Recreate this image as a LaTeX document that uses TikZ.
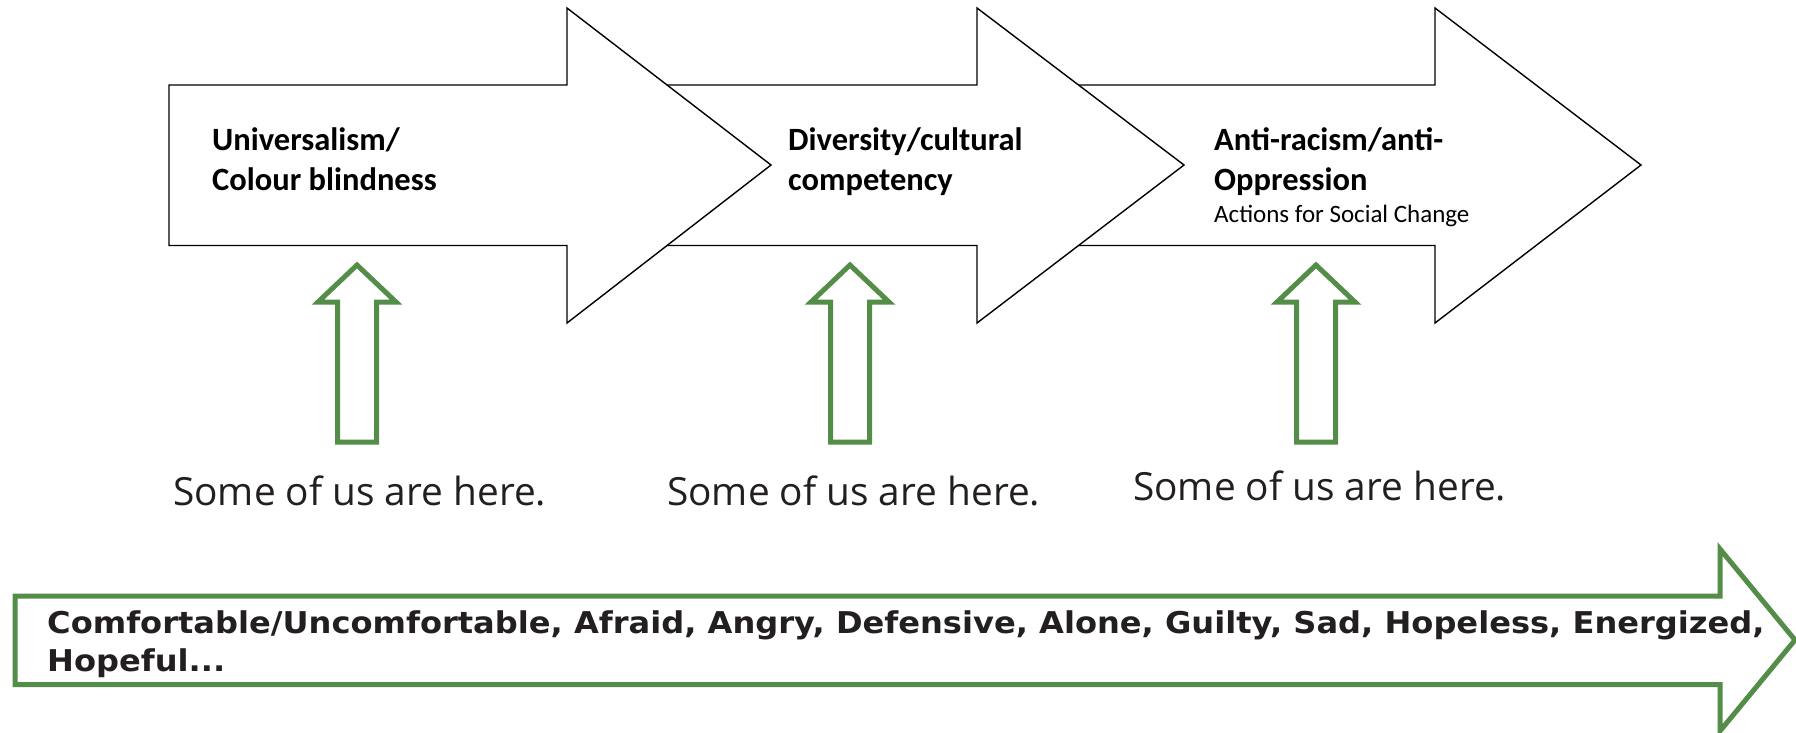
\documentclass[tikz,border=0pt]{standalone}
\usepackage{fontspec}
\setmainfont{Carlito}
\newfontfamily\labelfont{Carlito}
\newfontfamily\herefont{Open Sans}
\newfontfamily\feelfont[FakeStretch=1.07]{DejaVu Sans}
\definecolor{arrowgreen}{RGB}{84,141,72}
\definecolor{inkdark}{RGB}{35,31,32}
\tikzset{
  bigarrow/.style={draw=black, line width=1.4pt, fill=white, line join=miter},
  greenarrow/.style={draw=arrowgreen, line width=5pt, fill=white, line join=miter},
  stagetext/.style={anchor=base west, inner sep=0pt, font=\labelfont\bfseries\fontsize{32.5}{40}\selectfont, align=left},
  subtext/.style={anchor=base west, inner sep=0pt, font=\labelfont\fontsize{25}{28}\selectfont},
  heretext/.style={anchor=base west, inner sep=0pt, text=inkdark, font=\herefont\fontsize{38.8}{44}\selectfont},
  feeltext/.style={anchor=base west, inner sep=0pt, text=inkdark, font=\feelfont\bfseries\fontsize{30}{38}\selectfont, align=left}
}
\begin{document}
\begin{tikzpicture}[x=1pt,y=-1pt]
\useasboundingbox (0,0) rectangle (1796,732);
% big black arrows (back to front)
\draw[bigarrow] (1010,85) -- (1435,85) -- (1435,8) -- (1641,165) -- (1435,323) -- (1435,245.5) -- (1010,245.5) -- cycle;
\draw[bigarrow] (600,85) -- (977,85) -- (977,8) -- (1184,165) -- (977,323) -- (977,245.5) -- (600,245.5) -- cycle;
\draw[bigarrow] (169,85) -- (567,85) -- (567,8) -- (771,165) -- (567,323) -- (567,245.5) -- (169,245.5) -- cycle;
% stage labels
\node[stagetext] (s1a) at (212,150) {Universalism/};
\node[stagetext] (s1b) at (212,190) {Colour blindness};
\node[stagetext] (s2a) at (788,150) {Diversity/cultural};
\node[stagetext] (s2b) at (788,190) {competency};
\node[stagetext] (s3a) at (1214,150) {Anti-racism/anti-};
\node[stagetext] (s3b) at (1214,190) {Oppression};
\node[subtext] (s3c) at (1214,222) {Actions for Social Change};
% green up arrows
\foreach \cx in {357,850,1316}{
  \draw[greenarrow] (\cx,265) -- (\cx+39,302) -- (\cx+19.5,302) -- (\cx+19.5,442) -- (\cx-19.5,442) -- (\cx-19.5,302) -- (\cx-39,302) -- cycle;
}
% here labels
\node[heretext] (h1) at (173,505) {Some of us are here.};
\node[heretext] (h2) at (667,505) {Some of us are here.};
\node[heretext] (h3) at (1133,500) {Some of us are here.};
% bottom green arrow
\draw[greenarrow] (15,596) -- (1720,596) -- (1720,549) -- (1795,640) -- (1720,731) -- (1720,684.5) -- (15,684.5) -- cycle;
\node[feeltext] (f1) at (47,633) {Comfortable/Uncomfortable, Afraid, Angry, Defensive, Alone, Guilty, Sad, Hopeless, Energized,};
\node[feeltext] (f2) at (47,671) {Hopeful...};
\end{tikzpicture}
\end{document}
